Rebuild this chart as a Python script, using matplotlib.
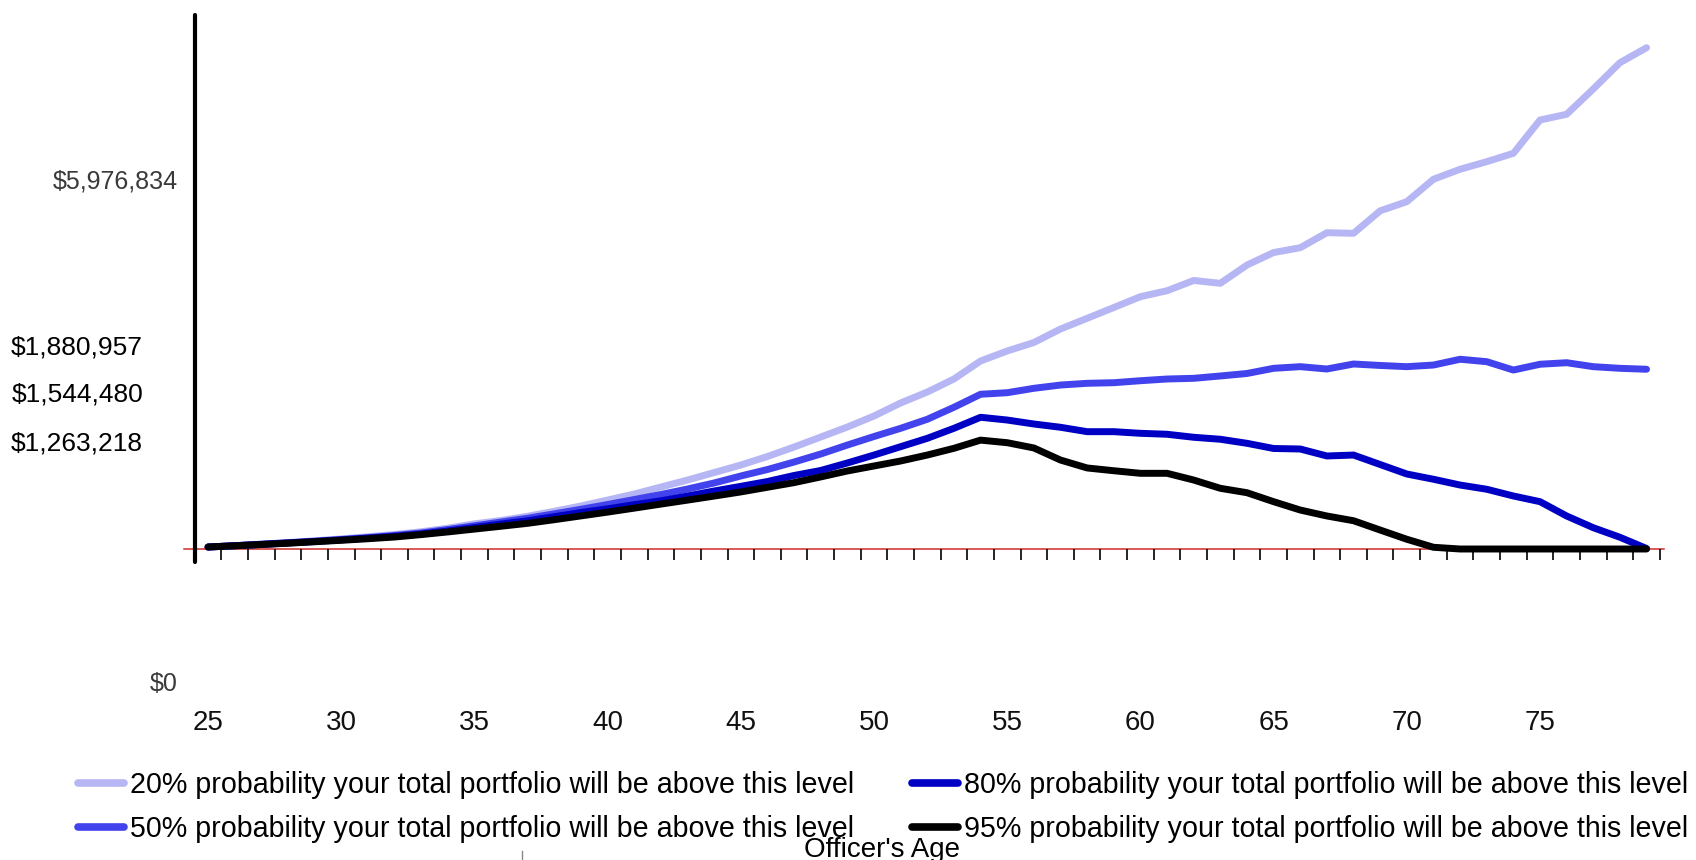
import matplotlib
matplotlib.use("Agg")
import matplotlib.pyplot as plt
from matplotlib.lines import Line2D
from matplotlib.ticker import FixedLocator, NullFormatter

plt.rcParams['font.family'] = ['Liberation Sans', 'DejaVu Sans']

# ---- data -------------------------------------------------------------
ages = list(range(25, 80))

p20 = [23000, 39000, 57000, 75000, 95000, 117000, 142000, 168000, 200000, 241000,
       292000, 331000, 380000, 438000, 499000, 568000, 638000, 719000, 800000, 887000,
       974000, 1073000, 1183000, 1299000, 1415000, 1543000, 1694000, 1821000, 1972000, 2181000,
       2297000, 2395000, 2552000, 2676000, 2801000, 2927000, 2996000, 3115000, 3082000, 3294000,
       3439000, 3495000, 3669000, 3662000, 3923000, 4029000, 4289000, 4405000, 4493000, 4590000,
       4976000, 5043000, 5336000, 5641000, 5815000]

p50 = [23000, 38000, 55000, 72000, 90000, 110000, 132000, 157000, 186000, 226000,
       269000, 313000, 357000, 408000, 461000, 516000, 574000, 632000, 696000, 766000,
       847000, 922000, 1009000, 1102000, 1206000, 1305000, 1400000, 1505000, 1644000, 1795000,
       1813000, 1864000, 1902000, 1922000, 1929000, 1952000, 1972000, 1980000, 2007000, 2036000,
       2096000, 2115000, 2088000, 2146000, 2129000, 2115000, 2134000, 2201000, 2173000, 2076000,
       2143000, 2161000, 2115000, 2096000, 2085000]

p80 = [23000, 38000, 53000, 70000, 87000, 106000, 126000, 148000, 174000, 209000,
       249000, 290000, 328000, 375000, 423000, 466000, 514000, 559000, 615000, 673000,
       727000, 783000, 853000, 911000, 998000, 1090000, 1187000, 1284000, 1400000, 1528000,
       1496000, 1450000, 1412000, 1361000, 1361000, 1342000, 1331000, 1296000, 1273000, 1226000,
       1166000, 1160000, 1079000, 1090000, 980000, 870000, 809000, 742000, 693000, 615000,
       549000, 383000, 247000, 136000, 6000]

p95 = [23000, 37000, 52000, 67000, 84000, 101000, 119000, 139000, 167000, 198000,
       231000, 264000, 298000, 340000, 384000, 428000, 474000, 521000, 567000, 614000,
       662000, 716000, 770000, 836000, 905000, 963000, 1021000, 1090000, 1168000, 1263000,
       1233000, 1172000, 1032000, 940000, 908000, 878000, 878000, 800000, 704000, 653000,
       549000, 452000, 383000, 328000, 220000, 113000, 20000, 0, 0, 0,
       0, 0, 0, 0, 0]

series_labels = [
    "20% probability your total portfolio will be above this level",
    "50% probability your total portfolio will be above this level",
    "80% probability your total portfolio will be above this level",
    "95% probability your total portfolio will be above this level",
]
series_colors = ["#b6b6f5", "#4343ee", "#0000c4", "#000000"]

value_labels = ["$5,976,834", "$1,880,957", "$1,544,480", "$1,263,218", "$0"]
age_ticks = [25, 30, 35, 40, 45, 50, 55, 60, 65, 70, 75]
x_title = "Officer's Age"

# ---- layout (pixels) --------------------------------------------------
W, H = 1696, 860
fig = plt.figure(figsize=(W / 100, H / 100), dpi=100)
fig.patch.set_facecolor("white")

ax_left, ax_right = 181.4, 1673.2     # pixel x of age 24 and age 80
ax_top, ax_bot = 10, 570              # pixel y of the axes box
ax = fig.add_axes([ax_left / W, 1 - ax_bot / H,
                   (ax_right - ax_left) / W, (ax_bot - ax_top) / H])
ax.set_xlim(24, 80)
ax.set_ylim(-243600, 6252400)
ax.set_facecolor("none")

for s in ["top", "right", "left"]:
    ax.spines[s].set_visible(False)
ax.spines["bottom"].set_position(("data", 0))
ax.spines["bottom"].set_visible(False)

# zero line and vertical axis
ax.axhline(0, xmin=0.0018, xmax=0.994, color="#d22a2a", lw=1.1, zorder=1)
ax.axvline(24.5, ymin=(ax_bot - 562) / (ax_bot - ax_top),
           ymax=(ax_bot - 15) / (ax_bot - ax_top),
           color="black", lw=3.0, solid_capstyle="round", zorder=5)

# yearly boundary ticks (minor) and age labels (major)
ax.xaxis.set_minor_locator(FixedLocator([a + 0.5 for a in ages]))
ax.xaxis.set_minor_formatter(NullFormatter())
ax.set_xticks(age_ticks)
ax.set_xticklabels([str(a) for a in age_ticks])
ax.tick_params(axis="x", which="minor", length=8, width=1.2, direction="out", color="black")
ax.tick_params(axis="x", which="major", length=0, pad=116, labelsize=20, labelcolor="#111111")
ax.set_yticks([])

# percentile lines
for vals, col, lab in zip([p20, p50, p80, p95], series_colors, series_labels):
    ax.plot(ages, vals, color=col, lw=5.0, solid_joinstyle="round",
            solid_capstyle="round", label=lab, zorder=3)

# value labels on the left
label_rows = [(181.7, 178, 18, "#3a3a3a"), (347, 143, 19, "black"),
              (394.5, 143, 19, "black"), (443, 143, 19, "black"),
              (684, 178, 18, "#3a3a3a")]
for text, (py, px, fs, col) in zip(value_labels, label_rows):
    fig.text(px / W, 1 - py / H, text, ha="right", va="center", fontsize=fs, color=col)

# legend
handles = [Line2D([0], [0], color=c, lw=5.5, solid_capstyle="round") for c in series_colors]
fig.legend(handles, series_labels, ncol=2, loc="upper left",
           bbox_to_anchor=(78 / W, 1 - 771 / H), frameon=False,
           borderpad=0, borderaxespad=0, handlelength=1.6, handletextpad=0.22,
           columnspacing=2.02, labelspacing=0.55, fontsize=20.6)

fig.text(882 / W, 1 - 850 / H, x_title, ha="center", va="center", fontsize=20)

# small stray mark below the legend
fig.add_artist(Line2D([522 / W, 522 / W], [0, (H - 851) / H],
                      transform=fig.transFigure, color="#888888", lw=1))

fig.savefig("out.png", dpi=100)
